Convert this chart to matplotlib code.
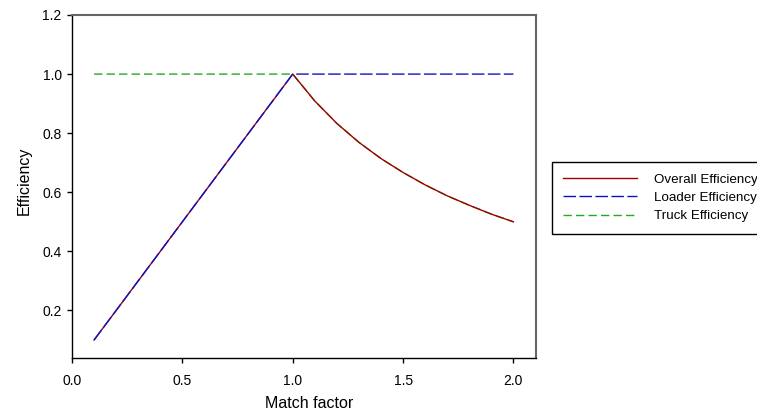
import matplotlib.pyplot as plt

plt.rcParams['font.family'] = ['Liberation Sans', 'DejaVu Sans']

# match factor values
mf = [0.1, 0.2, 0.3, 0.4, 0.5, 0.6, 0.7, 0.8, 0.9, 1.0,
      1.1, 1.2, 1.3, 1.4, 1.5, 1.6, 1.7, 1.8, 1.9, 2.0]

# efficiencies
overall_eff = [0.1, 0.2, 0.3, 0.4, 0.5, 0.6, 0.7, 0.8, 0.9, 1.0,
               0.909, 0.833, 0.769, 0.714, 0.667, 0.625, 0.588, 0.556, 0.526, 0.5]
loader_eff = [0.1, 0.2, 0.3, 0.4, 0.5, 0.6, 0.7, 0.8, 0.9, 1.0,
              1.0, 1.0, 1.0, 1.0, 1.0, 1.0, 1.0, 1.0, 1.0, 1.0]
truck_eff = [1.0, 1.0, 1.0, 1.0, 1.0, 1.0, 1.0, 1.0, 1.0, 1.0,
             0.909, 0.833, 0.769, 0.714, 0.667, 0.625, 0.588, 0.556, 0.526, 0.5]

fig = plt.figure(figsize=(7.57, 4.12), dpi=100)
ax = fig.add_axes([0.0951, 0.131, 0.6123, 0.8326])

ax.plot(mf, truck_eff, color='#22AA22', lw=1, dashes=(6, 3), label='Truck Efficiency', zorder=2)
ax.plot(mf, overall_eff, color='#A00000', lw=1, label='Overall Efficiency', zorder=3)
ax.plot(mf, loader_eff, color='#1010CC', lw=1, dashes=(9, 2.5), label='Loader Efficiency', zorder=4)

ax.set_xlim(0, 2.1)
ax.set_ylim(0.039, 1.2)
ax.set_xticks([0.0, 0.5, 1.0, 1.5, 2.0])
ax.set_yticks([0.2, 0.4, 0.6, 0.8, 1.0, 1.2])
ax.set_xticklabels(['0.0', '0.5', '1.0', '1.5', '2.0'])
ax.set_yticklabels(['0.2', '0.4', '0.6', '0.8', '1.0', '1.2'])
ax.tick_params(labelsize=10, direction='out', length=3.4, width=1, colors='black')
ax.tick_params(axis='x', pad=8)
ax.tick_params(axis='y', pad=4)

for s in ['left', 'bottom']:
    ax.spines[s].set_color('black')
    ax.spines[s].set_linewidth(1)
for s in ['top', 'right']:
    ax.spines[s].set_color('#666666')
    ax.spines[s].set_linewidth(1.5)

# axis titles placed by hand
fig.text(309 / 757, 1 - 403 / 412, 'Match factor', fontsize=11.5, ha='center', va='center')
fig.text(24 / 757, 1 - 181 / 412, 'Efficiency', fontsize=11.5, ha='center', va='center',
         rotation=90)

handles, labels = ax.get_legend_handles_labels()
order = [1, 2, 0]
leg = fig.legend([handles[i] for i in order], [labels[i] for i in order],
                 loc='upper left', bbox_to_anchor=(552 / 757, 1 - 162 / 412),
                 fontsize=9.6, frameon=True, fancybox=False, framealpha=1,
                 edgecolor='black', handlelength=5.5, handletextpad=1.28,
                 borderpad=0.85, labelspacing=0.45, borderaxespad=0)
leg.get_frame().set_linewidth(1)

fig.savefig('out.png', dpi=100)
